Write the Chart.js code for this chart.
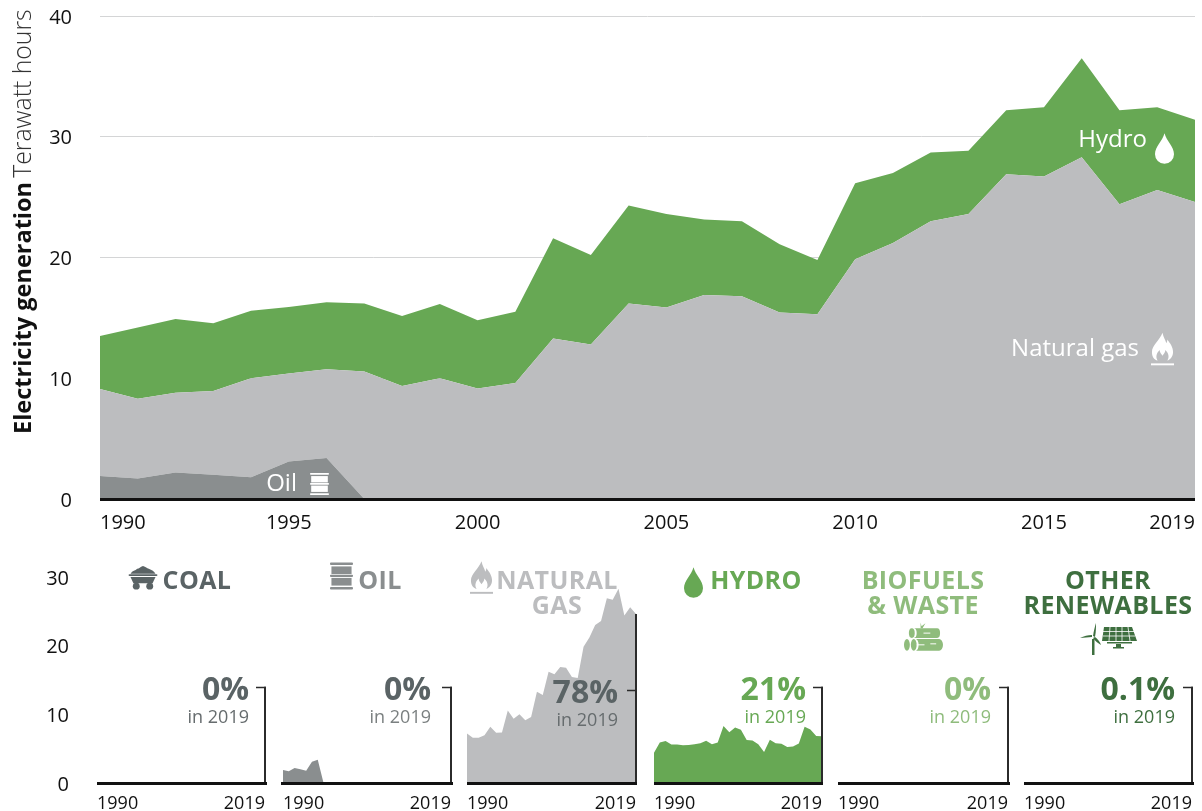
<!DOCTYPE html>
<html><head><meta charset="utf-8">
<script src="https://cdn.jsdelivr.net/npm/chart.js@4"></script>
<style>
html,body{margin:0;padding:0;background:#fff;overflow:hidden}
#stage{position:relative;width:1202px;height:811px;font-family:"Open Sans",sans-serif}
canvas{position:absolute}
.t{position:absolute;white-space:nowrap;line-height:1}
.title{font-weight:700;font-size:25px;line-height:25px;text-align:center;letter-spacing:.4px;font-family:"Open Sans",sans-serif}
.pct{font-weight:700;font-size:32px;text-align:right}
.in{font-size:18px;text-align:right}
.lab{color:#fff;font-size:24px;font-weight:500}
svg.i{position:absolute;overflow:visible}
</style></head><body><div id="stage"></div>
<svg width="0" height="0" style="position:absolute"><defs>
<symbol id="drop" viewBox="0 0 20 32"><path fill="currentColor" d="M10 0C12 8 20 14 20 22A10 10 0 0 1 0 22C0 14 8 8 10 0Z"/></symbol>
<symbol id="flame" viewBox="0 0 24 34"><path fill="currentColor" fill-rule="evenodd" d="M12 0C13 5 15 7 16 11C17 9 17 8 17 7C20 11 23 15 23 20C23 25 20 28 17 29C19 26 19 22 15 18C15 21 13 22 12 24C11 22 9 21 9 18C5 22 5 26 7 29C3 28 1 25 1 20C1 13 9 8 12 0Z"/><rect fill="currentColor" y="32" width="24" height="2"/></symbol>
<symbol id="barrel" viewBox="0 0 24 28"><g fill="currentColor"><rect x="0" y="0" width="24" height="2.4" rx="1"/><rect x="1.5" y="4" width="21" height="8"/><rect x="0" y="12.6" width="24" height="2.4" rx="1"/><rect x="1.5" y="16" width="21" height="8"/><rect x="0" y="25.6" width="24" height="2.4" rx="1"/></g></symbol>
<symbol id="coal" viewBox="0 0 30 26"><g fill="currentColor"><path d="M2 9C4 6 7 6 9 4C11 4 12 2 15 1C18 2 19 3 21 4C24 5 27 7 28 9Z"/><rect x="0" y="9.5" width="30" height="2" rx="1"/><path d="M2 12.5H28L25 19H5Z"/><circle cx="8" cy="22" r="3.6"/><circle cx="22" cy="22" r="3.6"/></g></symbol>
<symbol id="logs" viewBox="0 0 40 31"><g fill="currentColor"><path d="M17 0l1 4 4-3-3 5h-2z"/><ellipse cx="8" cy="11" rx="3" ry="5"/><path d="M10 6H34a3 5 0 0 1 0 10H10a3 5 0 0 0 0-10z"/><ellipse cx="3" cy="23" rx="3" ry="6"/><ellipse cx="10" cy="23" rx="3" ry="6"/><path d="M12 17H36a4 6 0 0 1 0 12H12a3 6 0 0 0 0-12z"/></g><g stroke="#fff" fill="none"><path d="M20 11h7M27 22h6M13 23h8"/></g></symbol>
<symbol id="wind" viewBox="0 0 57 32"><g fill="currentColor"><path d="M12 32V16h2.500V32z"/><path d="M13 13C14 7 15 3 16 0C16 4 16 9 15 14Z"/><path d="M12 14L0 15C4 13 8 12 12 12Z"/><path d="M15 14C18 16 20 19 21 22C18 20 15 18 13 15Z"/><path d="M24 4H52L57 18H22ZM27 19H52V20.500H27ZM36 21H41V24H44V25.500H33V24H36Z"/></g><g stroke="#fff" stroke-width=".8"><path d="M23 8.500H54M23 13H55M30 4L29 18M36 4V18M42 4V18M48 4L50 18"/></g></symbol>
</defs></svg>
<script>
const years = [1990,1991,1992,1993,1994,1995,1996,1997,1998,1999,2000,2001,2002,2003,2004,2005,2006,2007,2008,2009,2010,2011,2012,2013,2014,2015,2016,2017,2018,2019];
const oil   = [1.9,1.7,2.2,2.0,1.8,3.1,3.4,0,0,0,0,0,0,0,0,0,0,0,0,0,0,0,0,0,0,0,0,0,0,0];
const gas   = [7.2,6.6,6.6,6.95,8.2,7.3,7.35,10.55,9.35,10.0,9.15,9.6,13.3,12.8,16.2,15.85,16.9,16.8,15.45,15.3,19.85,21.2,23.0,23.6,26.9,26.7,28.3,24.4,25.6,24.6];
const hydro = [4.4,5.9,6.1,5.6,5.6,5.5,5.55,5.65,5.8,6.15,5.65,5.9,8.3,7.4,8.1,7.75,6.25,6.2,5.65,4.5,6.3,5.8,5.7,5.25,5.3,5.75,8.2,7.8,6.85,6.8];
const coal  = [0,0,0,0,0,0,0,0,0,0,0,0,0,0,0,0,0,0,0,0,0,0,0,0,0,0,0,0,0,0];
const biofuels = [0,0,0,0,0,0,0,0,0,0,0,0,0,0,0,0,0,0,0,0,0,0,0,0,0,0,0,0,0,0];
const otherRenewables = [0,0,0,0,0,0,0,0,0,0,0,0,0,0,0,0,0,0,0,0,0,0,0,0,0,0,0,0,0,0.03];
const mainYearTicks = [1990,1995,2000,2005,2010,2015,2019];
const mainValueTicks = [0,10,20,30,40];
const panelYearTicks = [1990,2019];
const panelValueTicks = [0,10,20,30];
const sharePct = ["0%","0%","78%","21%","0%","0.1%"];

const C={coal:'#5a6365',oil:'#8a8e8f',gas:'#bcbdbf',hydro:'#67a854',bio:'#8fbc7c',other:'#3e6f3f'};
const stage=document.getElementById('stage');
Chart.defaults.animation=false;
Chart.defaults.font.family='"Open Sans",sans-serif';

function mk(left,top,w,h){const c=document.createElement('canvas');c.width=w;c.height=h;
  c.style.cssText=`left:${left}px;top:${top}px;width:${w}px;height:${h}px`;stage.appendChild(c);return c;}
function html(cls,left,top,txt,color,extra){const d=document.createElement('div');d.className='t '+cls;
  d.style.cssText=`left:${left}px;top:${top}px;color:${color};${extra||''}`;d.innerHTML=txt;stage.appendChild(d);return d;}
function rightText(cls,right,cy,txt,color,size){return html(cls,0,0,txt,color,`right:${1202-right}px;left:auto;top:${cy-size/2}px;`);}
function icon(id,x,y,w,h,color){stage.insertAdjacentHTML('beforeend',`<svg class="i" style="left:${x}px;top:${y}px;color:${color}" width="${w}" height="${h}"><use href="#${id}" width="${w}" height="${h}"/></svg>`);}
function noPad(s){s.paddingTop=0;s.paddingBottom=0;s.paddingLeft=0;s.paddingRight=0;}

const baseline={id:'baseline',afterDatasetsDraw(ch,a,o){const {ctx,chartArea:ca,scales}=ch;const y0=scales.y.getPixelForValue(0);
  ctx.save();
  if(o.bracketTop!=null){const xr=ca.right;ctx.lineWidth=2;ctx.strokeStyle='#2b2b2b';ctx.beginPath();
    ctx.moveTo(xr,y0);ctx.lineTo(xr,scales.y.getPixelForValue(o.bracketTop));ctx.stroke();
    const ty=Math.round(scales.y.getPixelForValue(o.tick))+.5;ctx.lineWidth=1.5;ctx.beginPath();ctx.moveTo(xr-9,ty);ctx.lineTo(xr+1,ty);ctx.stroke();}
  ctx.lineWidth=3;ctx.strokeStyle='#111';ctx.beginPath();ctx.moveTo(ca.left-(o.l||0),y0+.5);ctx.lineTo(ca.right+(o.r||0),y0+.5);ctx.stroke();ctx.restore();}};

function area(label,data,color,fill){return {label,data,backgroundColor:color,borderWidth:0,pointRadius:0,tension:0,fill};}

/* main chart */
new Chart(mk(0,0,1202,545),{type:'line',plugins:[baseline],
 data:{labels:years,datasets:[area('Oil',oil,C.oil,'origin'),area('Natural gas',gas,C.gas,'-1'),area('Hydro',hydro,C.hydro,'-1')]},
 options:{responsive:false,layout:{padding:{top:16,right:7,left:0,bottom:0}},
  plugins:{legend:{display:false},tooltip:{enabled:false},baseline:{}},
  scales:{
   x:{type:'linear',min:1990,max:2019,grid:{display:false},border:{display:false},
      afterBuildTicks(s){s.ticks=mainYearTicks.map(v=>({value:v}));},
      afterFit(s){s.height=46;noPad(s);},
      ticks:{align:'inner',maxRotation:0,autoSkip:false,padding:4,color:'#111',font:{size:20},callback:v=>String(v)}},
   y:{stacked:true,min:0,max:40,grid:{color:'#d4d5d6',lineWidth:1,drawTicks:false},border:{display:false},
      afterBuildTicks(s){s.ticks=mainValueTicks.map(v=>({value:v}));},
      afterFit(s){s.width=100;noPad(s);},
      ticks:{padding:28,labelOffset:2,color:'#111',font:{size:20}}}
  }}});

/* small multiples */
const panels=[
 {key:'Coal',data:coal,color:C.coal,x0:97,x1:265,l:0,r:2,top:14,tick:14},
 {key:'Oil',data:oil,color:C.oil,x0:283,x1:451,l:2,r:2,top:14,tick:14},
 {key:'Natural gas',data:gas,color:C.gas,x0:467,x1:636,l:0,r:1,top:24.6,tick:13.5},
 {key:'Hydro',data:hydro,color:C.hydro,x0:654,x1:822,l:0,r:1,top:14,tick:14},
 {key:'Biofuels & waste',data:biofuels,color:C.bio,x0:838,x1:1008,l:0,r:2,top:14,tick:14},
 {key:'Other renewables',data:otherRenewables,color:C.other,x0:1024,x1:1192,l:0,r:2,top:14,tick:14}
];
const TOP=565,H=246,BASE=783,Y30=577;
panels.forEach((p,i)=>{
 const left=i===0?0:p.x0-6, w=p.x1-left+8;
 new Chart(mk(left,TOP,w,H),{type:'line',plugins:[baseline],
  data:{labels:years,datasets:[area(p.key,p.data,p.color,'origin')]},
  options:{responsive:false,layout:{padding:{top:Y30-TOP,right:8,left:i===0?0:6,bottom:0}},
   plugins:{legend:{display:false},tooltip:{enabled:false},baseline:{bracketTop:p.top,tick:p.tick,l:p.l,r:p.r}},
   scales:{
    x:{type:'linear',min:1990,max:2019,grid:{display:false},border:{display:false},
       afterBuildTicks(s){s.ticks=panelYearTicks.map(v=>({value:v}));},
       afterFit(s){s.height=TOP+H-BASE;noPad(s);},
       ticks:{align:'inner',maxRotation:0,autoSkip:false,padding:2,color:'#111',font:{size:18},callback:v=>String(v)}},
    y:{min:0,max:30,display:i===0,grid:{display:false},border:{display:false},
       afterBuildTicks(s){s.ticks=panelValueTicks.map(v=>({value:v}));},
       afterFit(s){s.width=i===0?97:0;noPad(s);},
       ticks:{padding:20,labelOffset:2,color:'#111',font:{size:20}}}
   }}});
});

/* axis title */
html('',0,0,'<b style="font-weight:700;font-size:23.500px">Electricity generation</b> <span style="font-weight:300;font-size:24.800px;color:#333">Terawatt hours</span>','#111',
 'line-height:1;left:9px;top:434px;transform-origin:0 0;transform:rotate(-90deg);white-space:nowrap');

/* direct labels */
rightText('lab',1147,138,'Hydro','#fff',24);
rightText('lab',1139,347,'Natural gas','#fff',24);
rightText('lab',297,482,'Oil','#fff',24);
icon('drop',1155,133,19,31,'#fff');
icon('flame',1151,332,23,34,'#fff');
icon('barrel',310,471,19,26,'#fff');

/* small-multiple titles */
function title(cx,y,txt,color){return html('title',cx,y,txt,color,'transform:translateX(-50%);');}
title(197,567,'COAL',C.coal);
title(380,567,'OIL',C.oil);
title(557,567,'NATURAL<br>GAS',C.gas);
title(756,567,'HYDRO',C.hydro);
title(923,567,'BIOFUELS<br>&amp; WASTE',C.bio);
title(1108,567,'OTHER<br>RENEWABLES',C.other);
icon('coal',128,565,30,25,C.coal);
icon('barrel',330,562,23,28,C.oil);
icon('flame',470,561,23,33,C.gas);
icon('drop',684,567,19,31,C.hydro);
icon('logs',904,622,39,31,C.bio);
icon('wind',1080,623,57,32,C.other);

/* shares */
const shareRows=[[249,688,C.coal,'#666c6e'],[431,688,C.coal,'#7b8081'],[618,691,C.coal,'#666c6e'],[806,688,C.hydro,C.hydro],[991,688,C.bio,C.bio],[1175,688,C.other,C.other]];
shareRows.forEach((r,i)=>{rightText('pct',r[0],r[1],sharePct[i],r[2],32);rightText('in',r[0],r[1]+28,'in 2019',r[3],18);});
</script></body></html>
